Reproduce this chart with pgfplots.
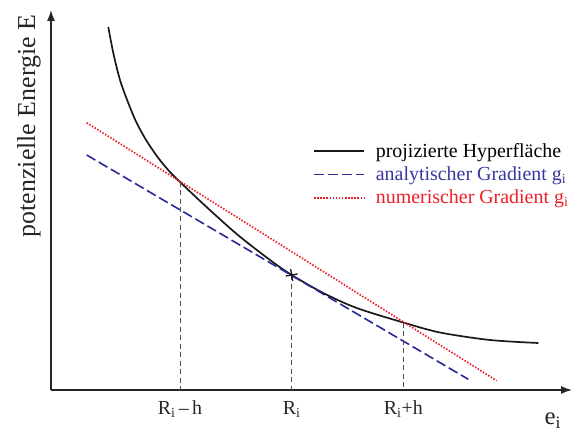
\documentclass[border=0pt]{standalone}
\usepackage{fontspec}
\setmainfont{Liberation Serif}
\usepackage{pgfplots}
\pgfplotsset{compat=1.18}
\usetikzlibrary{arrows.meta}

\definecolor{hyper}{RGB}{25,25,25}
\definecolor{analyt}{RGB}{40,40,150}
\definecolor{analytxt}{RGB}{55,55,160}
\definecolor{numer}{RGB}{237,30,40}
\definecolor{guide}{RGB}{80,80,80}

\begin{document}
\begin{tikzpicture}
\begin{axis}[
    x=1bp, y=1bp,
    xmin=51, xmax=572, ymin=36, ymax=416,
    axis lines=left,
    axis line style={line width=1.3bp, draw=black!85, -{Latex[length=11bp,width=8bp]}},
    xtick={180,291.7,403.3},
    xticklabels={R\textsubscript{i}\,–\,h, R\textsubscript{i}, R\textsubscript{i}+h},
    ytick=\empty,
    major tick length=0pt,
    xticklabel style={font=\fontsize{20}{23}\selectfont, anchor=base, yshift=-24bp, text=black!85},
    xlabel={e\textsubscript{i}},
    xlabel style={font=\fontsize{25}{28}\selectfont, text=black!85,
        at={(axis description cs:0.9405,-0.0908)}, anchor=base west},
    ylabel={potenzielle Energie E},
    ylabel style={font=\fontsize{26}{29}\selectfont, text=black!85,
        at={(axis description cs:-0.0422,0.6947)}, anchor=center},
    clip=false,
    legend style={at={(axis cs:313,285)}, anchor=north west, draw=none, fill=none,
        font=\fontsize{20}{23}\selectfont, row sep=4bp, column sep=9bp, inner sep=0pt,
        cells={anchor=west}},
    legend image code/.code={\draw[#1] (0bp,0bp) -- (50bp,0bp);},
]

% bounding box of the whole picture
\path (axis cs:0,0) rectangle (axis cs:573,426);

% projected hypersurface
\addplot[hyper, line width=1.7bp, smooth] coordinates {
    (108.3,399) (113.3,373) (120,346) (128.3,323) (136.7,303) (146.7,285)
    (158.3,268) (170,254) (180,244) (203.3,222) (236.7,192) (270,166)
    (291.7,151) (323.3,133) (356.7,118) (403.3,103.5) (440,93.5)
    (490,86) (538.3,83)
};
\addlegendentry{projizierte Hyperfläche}

% analytical gradient (tangent)
\addplot[analyt, line width=1.6bp, dash pattern=on 10bp off 4bp] coordinates {
    (86.7,271) (468.3,46.7)
};
\addlegendentry{\textcolor{analytxt}{analytischer Gradient g\textsubscript{i}}}

% numerical gradient (secant)
\addplot[numer, line width=1.7bp, dash pattern=on 1.5bp off 1.6bp] coordinates {
    (86.7,303.3) (496.7,45.3)
};
\addlegendentry{\textcolor{numer}{numerischer Gradient g\textsubscript{i}}}

% guide lines
\addplot[guide, line width=1bp, dash pattern=on 5bp off 3.5bp, forget plot] coordinates {(180,244) (180,36)};
\addplot[guide, line width=1bp, dash pattern=on 5bp off 3.5bp, forget plot] coordinates {(291.7,151) (291.7,36)};
\addplot[guide, line width=1bp, dash pattern=on 5bp off 3.5bp, forget plot] coordinates {(403.3,103.5) (403.3,36)};

% evaluation point
\addplot[hyper, only marks, mark=+, mark size=6bp, mark options={line width=1.3bp, rotate=10}, forget plot] coordinates {(291.7,151)};

\end{axis}
\end{tikzpicture}
\end{document}
